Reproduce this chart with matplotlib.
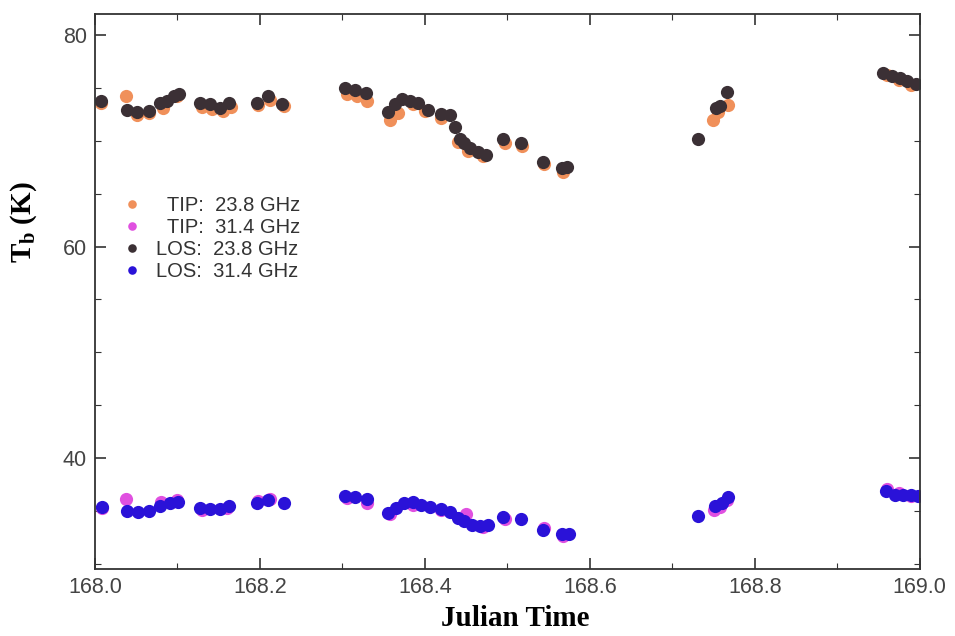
import matplotlib
matplotlib.use('Agg')
import matplotlib.pyplot as plt
from matplotlib.ticker import MultipleLocator

plt.rcParams['mathtext.fontset'] = 'custom'
plt.rcParams['mathtext.bf'] = 'Liberation Serif:bold'
plt.rcParams['mathtext.rm'] = 'Liberation Serif'

# LOS 23.8 GHz
los23_t = [168.007, 168.039, 168.051, 168.065, 168.079, 168.087, 168.096, 168.102,
           168.127, 168.139, 168.152, 168.162, 168.196, 168.210, 168.227,
           168.303, 168.315, 168.328, 168.355, 168.364, 168.372, 168.382, 168.392,
           168.404, 168.419, 168.430, 168.436, 168.442, 168.448, 168.455, 168.464,
           168.474, 168.495, 168.516, 168.543, 168.566, 168.572,
           168.731, 168.753, 168.758, 168.766,
           168.956, 168.966, 168.976, 168.985, 168.995]
los23_v = [73.8, 72.9, 72.7, 72.8, 73.6, 73.8, 74.2, 74.4,
           73.6, 73.5, 73.1, 73.6, 73.6, 74.2, 73.5,
           75.0, 74.8, 74.5, 72.7, 73.5, 74.0, 73.8, 73.6,
           72.9, 72.5, 72.4, 71.3, 70.2, 69.8, 69.3, 68.9,
           68.7, 70.2, 69.8, 68.0, 67.4, 67.5,
           70.2, 73.1, 73.3, 74.6,
           76.4, 76.1, 75.9, 75.7, 75.4]

# TIP 23.8 GHz
tip23_t = [168.007, 168.037, 168.051, 168.065, 168.082, 168.100,
           168.130, 168.142, 168.155, 168.165, 168.198, 168.212, 168.229,
           168.305, 168.318, 168.330, 168.358, 168.368, 168.385, 168.400,
           168.420, 168.440, 168.452, 168.470, 168.497, 168.518, 168.545, 168.568,
           168.749, 168.756, 168.768,
           168.960, 168.975, 168.990]
tip23_v = [73.6, 74.2, 72.4, 72.6, 73.1, 74.2,
           73.2, 73.0, 72.8, 73.2, 73.4, 73.9, 73.3,
           74.4, 74.2, 73.8, 72.0, 72.6, 73.5, 72.8,
           72.2, 69.9, 69.0, 68.6, 69.8, 69.5, 67.8, 67.1,
           72.0, 72.7, 73.4,
           76.2, 75.8, 75.3]

# LOS 31.4 GHz
los31_t = [168.008, 168.039, 168.052, 168.065, 168.079, 168.091, 168.101,
           168.127, 168.139, 168.152, 168.162, 168.196, 168.210, 168.229,
           168.303, 168.315, 168.330, 168.355, 168.365, 168.375, 168.385, 168.395,
           168.406, 168.419, 168.430, 168.440, 168.448, 168.457, 168.467, 168.476,
           168.495, 168.516, 168.543, 168.566, 168.575,
           168.731, 168.752, 168.760, 168.767,
           168.959, 168.970, 168.980, 168.990, 168.998]
los31_v = [35.4, 35.0, 34.9, 35.0, 35.5, 35.7, 35.8,
           35.3, 35.2, 35.2, 35.5, 35.7, 36.0, 35.7,
           36.4, 36.3, 36.1, 34.8, 35.3, 35.7, 35.8, 35.6,
           35.4, 35.2, 34.9, 34.3, 34.0, 33.7, 33.6, 33.7,
           34.4, 34.2, 33.2, 32.8, 32.8,
           34.5, 35.5, 35.7, 36.3,
           36.9, 36.5, 36.5, 36.5, 36.4]

# TIP 31.4 GHz
tip31_t = [168.008, 168.037, 168.080, 168.100, 168.130, 168.160,
           168.198, 168.212, 168.305, 168.330, 168.358, 168.385,
           168.420, 168.450, 168.470, 168.497, 168.545, 168.568,
           168.750, 168.758, 168.766,
           168.960, 168.975, 168.990]
tip31_v = [35.3, 36.1, 35.8, 36.0, 35.1, 35.3,
           35.9, 36.1, 36.2, 35.7, 34.7, 35.6,
           35.1, 34.7, 33.5, 34.2, 33.4, 32.6,
           35.1, 35.4, 36.0,
           37.1, 36.7, 36.4]

fig = plt.figure(figsize=(9.55, 6.36), dpi=100)
ax = fig.add_axes([0.0995, 0.1053, 0.8635, 0.8727])

ms = 9.5
ax.plot(tip23_t, tip23_v, 'o', color='#f0905a', ms=ms, mec='none', label='  TIP:  23.8 GHz')
ax.plot(tip31_t, tip31_v, 'o', color='#e050e0', ms=ms, mec='none', label='  TIP:  31.4 GHz')
ax.plot(los23_t, los23_v, 'o', color='#3b3035', ms=ms, mec='none', label='LOS:  23.8 GHz')
ax.plot(los31_t, los31_v, 'o', color='#2a12d8', ms=ms, mec='none', label='LOS:  31.4 GHz')

ax.set_xlim(168.0, 169.0)
ax.set_ylim(29.5, 82)
ax.xaxis.set_major_locator(MultipleLocator(0.2))
ax.xaxis.set_minor_locator(MultipleLocator(0.1))
ax.yaxis.set_major_locator(MultipleLocator(20))
ax.yaxis.set_minor_locator(MultipleLocator(5))
ax.xaxis.set_major_formatter(plt.FuncFormatter(lambda v, p: f'{v:.1f}'))
ax.tick_params(which='both', direction='in', top=True, right=True,
               labelsize=15.5, colors='#333333', labelcolor='#444444')
ax.tick_params(which='major', length=8, width=1.2, pad=6)
ax.tick_params(which='minor', length=4, width=0.8)
for lab in ax.get_xticklabels() + ax.get_yticklabels():
    lab.set_family('Liberation Sans')
for s in ax.spines.values():
    s.set_linewidth(1.3)
    s.set_color('#333333')

ax.set_xlabel('Julian Time', family='Liberation Serif', fontweight='bold', fontsize=21)
ax.xaxis.set_label_coords(0.51, -0.064)
ax.set_ylabel(r'$\mathbf{T_b}$ (K)', family='Liberation Serif', fontweight='bold', fontsize=21)
ax.yaxis.set_label_coords(-0.068, 0.625)

leg = ax.legend(loc='upper left', bbox_to_anchor=(0.02, 0.672), frameon=False,
                markerscale=0.65, handletextpad=0.2, labelspacing=0.15,
                borderaxespad=0, borderpad=0,
                prop={'family': 'Liberation Sans', 'size': 14.5})
for t in leg.get_texts():
    t.set_color('#333333')

fig.savefig('out.png', dpi=100)
